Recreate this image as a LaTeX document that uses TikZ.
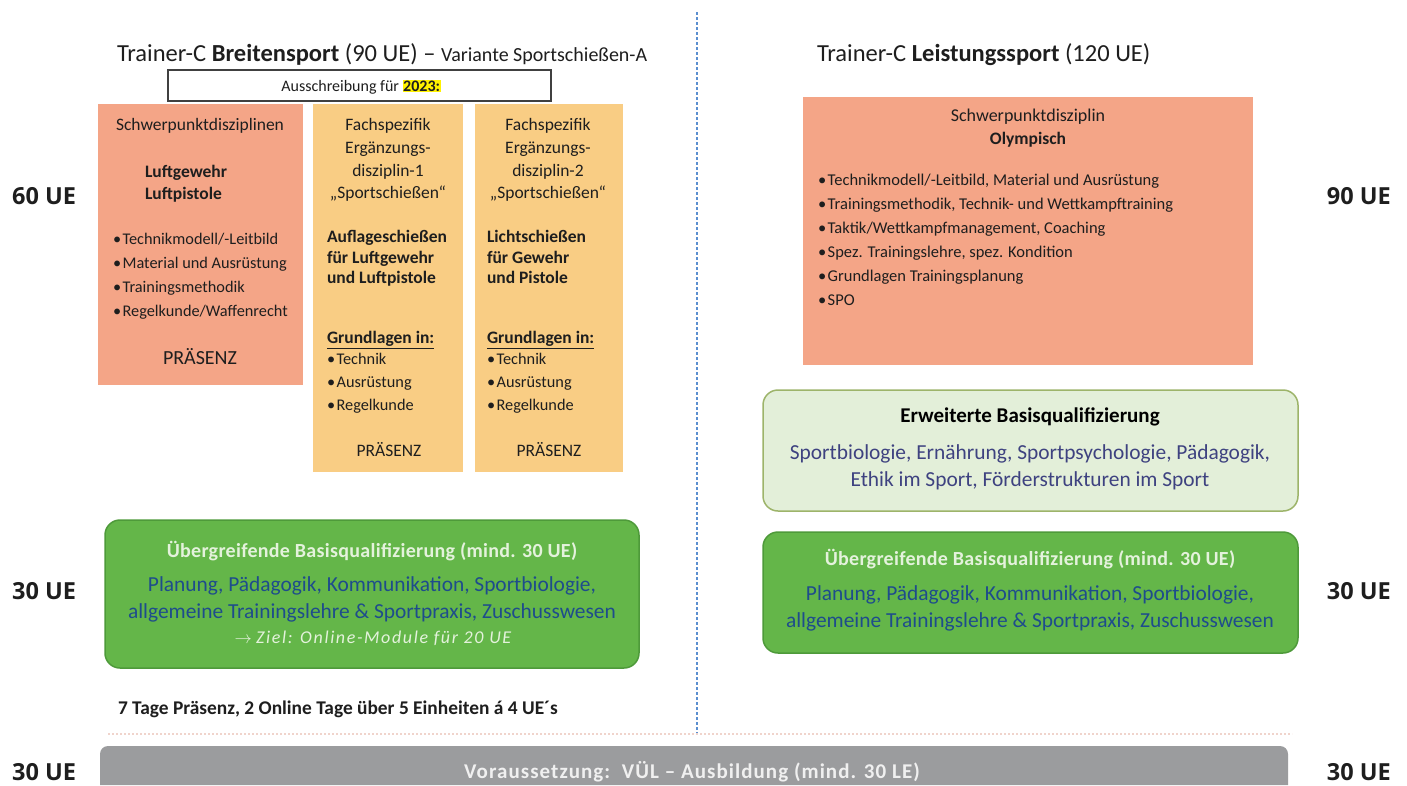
\documentclass[tikz,border=0pt]{standalone}
\usepackage{fontspec}
\setmainfont{Carlito}
\newfontfamily\labfont{Open Sans}
\definecolor{salmon}{HTML}{F4A587}
\definecolor{ylw}{HTML}{F9CD84}
\definecolor{lgreen}{HTML}{E3EFD9}
\definecolor{lgreenborder}{HTML}{9DB46A}
\definecolor{mgreen}{HTML}{64B649}
\definecolor{mgreenborder}{HTML}{4E9A3A}
\definecolor{barg}{HTML}{9B9C9E}
\definecolor{navy}{HTML}{1E4C8C}
\definecolor{slate}{HTML}{3E4280}
\definecolor{dashblue}{HTML}{5B8FD0}
\definecolor{txtc}{HTML}{1E1E1E}
\definecolor{faint}{HTML}{F0D4CC}
\definecolor{ltxt}{HTML}{E4F2DC}
\begin{document}
\begin{tikzpicture}[x=1pt,y=-1pt,
  box/.style={rectangle, inner sep=0pt, outer sep=0pt, draw=none},
  t/.style={inner sep=0pt, outer sep=0pt, text=txtc, anchor=mid},
  tl/.style={t, anchor=mid west},
  fs/.style={font=\fontsize{#1}{#1}\selectfont, yshift={-0.25*#1pt}},
  fsb/.style={font=\fontsize{#1}{#1}\selectfont\bfseries, yshift={-0.25*#1pt}},
  lab/.style={font=\labfont\bfseries\fontsize{23.5}{23.5}\selectfont, text=txtc, inner sep=0pt, yshift=-6.5pt},
  greenbox/.style={box, fill=mgreen, draw=mgreenborder, line width=1.5pt, rounded corners=15pt}
]
\fill[white] (0,0) rectangle (1407,785);
\useasboundingbox (0,0) rectangle (1407,785);

% divider
\coordinate (dtop) at (697,12);
\coordinate (dbot) at (697,733);
\draw[dashblue, line width=1.6pt, dash pattern=on 3pt off 2pt] (dtop) -- (dbot);
\coordinate (ftl) at (108,734);
\coordinate (ftr) at (1292,734);
\draw[faint, line width=1.5pt, dash pattern=on 2pt off 2pt] (ftl) -- (ftr);

% titles
\node[tl, fs=24.5] (titleL) at (117,53) {Trainer-C \textbf{Breitensport} (90 UE) – {\fontsize{20}{20}\selectfont Variante Sportschießen-A}};
\node[tl, fs=24.5] (titleR) at (817,53) {Trainer-C \textbf{Leistungssport} (120 UE)};

\node[box, draw=black!75, line width=1.5pt, fill=white, minimum width=383pt, minimum height=31pt] (aus) at (359.5,85.5) {};
\node[t, fs=16] (aust) at (361,85) {Ausschreibung für {\setlength{\fboxsep}{0.5pt}\colorbox{yellow}{\textbf{2023:}}}};

% box 1
\node[box, fill=salmon, minimum width=205pt, minimum height=281pt] (sp1) at (200.5,244.5) {};
\node[t, fs=17.5] (sp1a) at (200,124) {Schwerpunktdisziplinen};
\node[tl, fsb=17.5] (sp1b) at (145,171) {Luftgewehr};
\node[tl, fsb=17.5] (sp1c) at (145,193) {Luftpistole};
\node[tl, fs=16.3] (sp1d) at (113,238) {•\hspace{1.5pt}Technikmodell/-Leitbild};
\node[tl, fs=16.3] (sp1e) at (113,262) {•\hspace{1.5pt}Material und Ausrüstung};
\node[tl, fs=16.3] (sp1f) at (113,286) {•\hspace{1.5pt}Trainingsmethodik};
\node[tl, fs=16.3] (sp1g) at (113,310) {•\hspace{1.5pt}Regelkunde/Waffenrecht};
\node[t, fs=20] (sp1p) at (200,357) {PRÄSENZ};

% box 2
\node[box, fill=ylw, minimum width=150pt, minimum height=368pt] (fa1) at (388,288) {};
\node[t, fs=17.5] (fa1a) at (388,124) {Fachspezifik};
\node[t, fs=17.5] (fa1b) at (388,147) {Ergänzungs-};
\node[t, fs=17.5] (fa1c) at (388,170) {disziplin-1};
\node[t, fs=17.5] (fa1d) at (388,192) {„Sportschießen“};
\node[tl, fsb=17.5] (fa1e) at (327,236) {Auflageschießen};
\node[tl, fsb=17.5] (fa1f) at (327,257) {für Luftgewehr};
\node[tl, fsb=17.5] (fa1g) at (327,277) {und Luftpistole};
\node[tl, fsb=17.5] (fa1h) at (327,337) {\underline{Grundlagen in:}};
\node[tl, fs=16.3] (fa1i) at (327,358) {•\hspace{1.5pt}Technik};
\node[tl, fs=16.3] (fa1j) at (327,381) {•\hspace{1.5pt}Ausrüstung};
\node[tl, fs=16.3] (fa1k) at (327,404) {•\hspace{1.5pt}Regelkunde};
\node[t, fs=17.5] (fa1p) at (389,450) {PRÄSENZ};

% box 3
\node[box, fill=ylw, minimum width=148pt, minimum height=368pt] (fa2) at (549,288) {};
\node[t, fs=17.5] (fa2a) at (548,124) {Fachspezifik};
\node[t, fs=17.5] (fa2b) at (548,147) {Ergänzungs-};
\node[t, fs=17.5] (fa2c) at (548,170) {disziplin-2};
\node[t, fs=17.5] (fa2d) at (548,192) {„Sportschießen“};
\node[tl, fsb=17.5] (fa2e) at (487,236) {Lichtschießen};
\node[tl, fsb=17.5] (fa2f) at (487,257) {für Gewehr};
\node[tl, fsb=17.5] (fa2g) at (487,277) {und Pistole};
\node[tl, fsb=17.5] (fa2h) at (487,337) {\underline{Grundlagen in:}};
\node[tl, fs=16.3] (fa2i) at (487,358) {•\hspace{1.5pt}Technik};
\node[tl, fs=16.3] (fa2j) at (487,381) {•\hspace{1.5pt}Ausrüstung};
\node[tl, fs=16.3] (fa2k) at (487,404) {•\hspace{1.5pt}Regelkunde};
\node[t, fs=17.5] (fa2p) at (549,450) {PRÄSENZ};

% right salmon box
\node[box, fill=salmon, minimum width=450pt, minimum height=268pt] (sp2) at (1028,231) {};
\node[t, fs=18] (sp2a) at (1028,115) {Schwerpunktdisziplin};
\node[t, fsb=17.5] (sp2b) at (1028,138) {Olympisch};
\node[tl, fs=16.5] (sp2c) at (818,179) {•\hspace{1.5pt}Technikmodell/-Leitbild, Material und Ausrüstung};
\node[tl, fs=16.5] (sp2d) at (818,203) {•\hspace{1.5pt}Trainingsmethodik, Technik- und Wettkampftraining};
\node[tl, fs=16.5] (sp2e) at (818,227) {•\hspace{1.5pt}Taktik/Wettkampfmanagement, Coaching};
\node[tl, fs=16.5] (sp2f) at (818,251) {•\hspace{1.5pt}Spez. Trainingslehre, spez. Kondition};
\node[tl, fs=16.5] (sp2g) at (818,275) {•\hspace{1.5pt}Grundlagen Trainingsplanung};
\node[tl, fs=16.5] (sp2h) at (818,299) {•\hspace{1.5pt}SPO};

% erweiterte
\node[box, fill=lgreen, draw=lgreenborder, line width=1.5pt, rounded corners=15pt, minimum width=535pt, minimum height=121pt] (eb) at (1030.5,450.5) {};
\node[t, fsb=21, text=black] (eba) at (1030,415) {Erweiterte Basisqualifizierung};
\node[t, fs=21.4, text=slate] (ebb) at (1030,452) {Sportbiologie, Ernährung, Sportpsychologie, Pädagogik,};
\node[t, fs=21.4, text=slate] (ebc) at (1030,479) {Ethik im Sport, Förderstrukturen im Sport};

% uebergreifende right
\node[greenbox, minimum width=535pt, minimum height=121pt] (ubR) at (1030.5,592.5) {};
\node[t, fsb=20, text=ltxt] (ubRa) at (1030,558) {\addfontfeature{LetterSpace=1.5}Übergreifende Basisqualifizierung (mind. 30 UE)};
\node[t, fs=21.4, text=navy] (ubRb) at (1030,593) {Planung, Pädagogik, Kommunikation, Sportbiologie,};
\node[t, fs=21.4, text=navy] (ubRc) at (1030,620) {allgemeine Trainingslehre \& Sportpraxis, Zuschusswesen};

% uebergreifende left
\node[greenbox, minimum width=534pt, minimum height=148pt] (ubL) at (372,594) {};
\node[t, fsb=20, text=ltxt] (ubLa) at (372,550) {\addfontfeature{LetterSpace=1.5}Übergreifende Basisqualifizierung (mind. 30 UE)};
\node[t, fs=21.4, text=navy] (ubLb) at (372,584) {Planung, Pädagogik, Kommunikation, Sportbiologie,};
\node[t, fs=21.4, text=navy] (ubLc) at (372,611) {allgemeine Trainingslehre \& Sportpraxis, Zuschusswesen};
\node[t, fs=18, text=ltxt] (ubLd) at (373,637) {$\rightarrow$ \itshape\addfontfeature{LetterSpace=9}Ziel: Online-Module für 20 UE};

\node[tl, fsb=19.4] (foot) at (118,707) {7 Tage Präsenz, 2 Online Tage über 5 Einheiten á 4 UE´s};

% bottom bar
\path[fill=barg] (100,785) [rounded corners=8pt] -- (100,746) -- (1288,746) [sharp corners] -- (1288,785) -- cycle;
\node[t, fsb=21, text=white!88!gray] (vort) at (692,771) {\addfontfeature{LetterSpace=5}Voraussetzung:\ \ VÜL – Ausbildung (mind. 30 LE)};

% side labels
\node[lab, anchor=mid west] (l60) at (12,196) {60 UE};
\node[lab, anchor=mid east] (r90) at (1391,196) {90 UE};
\node[lab, anchor=mid west] (l30a) at (12,591) {30 UE};
\node[lab, anchor=mid east] (r30a) at (1391,591) {30 UE};
\node[lab, anchor=mid west] (l30b) at (12,772) {30 UE};
\node[lab, anchor=mid east] (r30b) at (1391,772) {30 UE};
\end{tikzpicture}
\end{document}
